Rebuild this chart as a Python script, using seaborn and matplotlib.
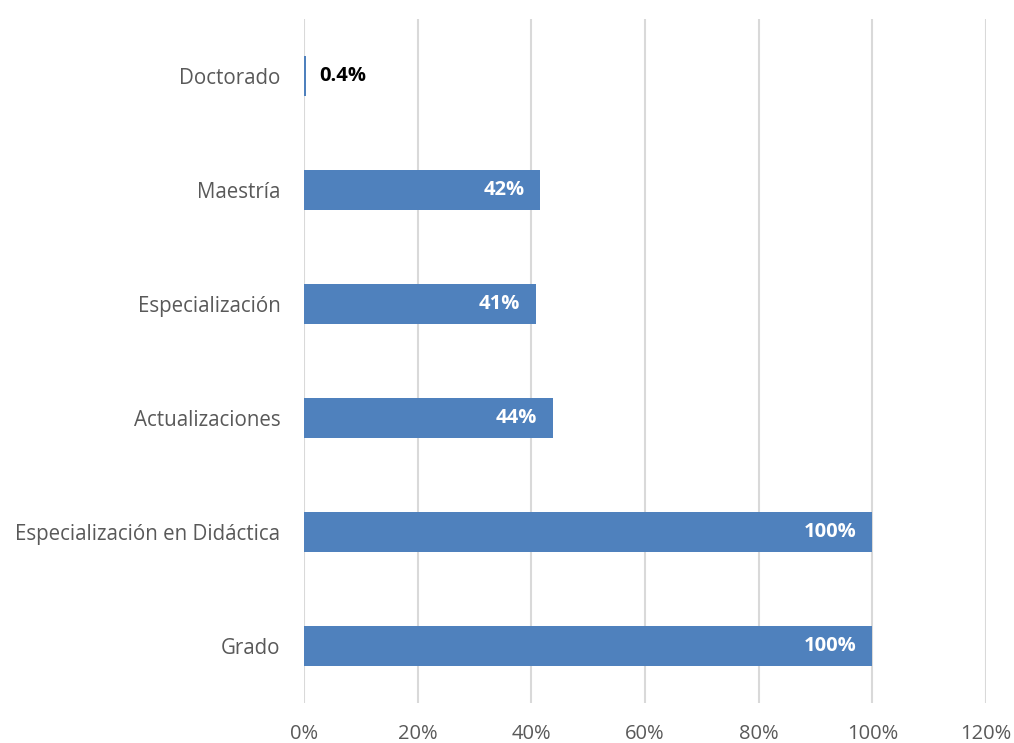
import matplotlib
matplotlib.use("Agg")
import matplotlib.pyplot as plt
import seaborn as sns
import pandas as pd
from matplotlib.ticker import FuncFormatter

categories = ["Doctorado", "Maestría", "Especialización", "Actualizaciones",
              "Especialización en Didáctica", "Grado"]
values = [0.4, 41.6, 40.8, 43.8, 100, 100]
labels = ["0.4%", "42%", "41%", "44%", "100%", "100%"]
xticks = [0, 20, 40, 60, 80, 100, 120]

sns.set_theme(style="white")
plt.rcParams['font.family'] = ['Open Sans', 'DejaVu Sans']

df = pd.DataFrame({"cat": categories, "val": values})

fig = plt.figure(figsize=(10.14, 7.43), dpi=100)
ax = fig.add_axes([304/1014, (743-703)/743, (986-304)/1014, (703-19)/743])

sns.barplot(data=df, y="cat", x="val", orient="h", color="#4F81BD",
            saturation=1, width=0.35, ax=ax, zorder=3, linewidth=0)

ax.set_xlim(0, 120)
ax.set_xticks(xticks)
ax.xaxis.set_major_formatter(FuncFormatter(lambda v, p: f"{int(v)}%"))
ax.grid(axis="x", color="#D9D9D9", linewidth=1.5, zorder=0)
ax.grid(axis="y", visible=False)
for s in ax.spines.values():
    s.set_visible(False)
ax.set_xlabel("")
ax.set_ylabel("")
ax.tick_params(axis="x", length=0, pad=15, labelsize=14.5, labelcolor="#595959")
ax.tick_params(axis="y", length=0, pad=17, labelsize=14.8, labelcolor="#595959")

for i, (v, lab) in enumerate(zip(values, labels)):
    if v < 5:
        ax.annotate(lab, (v, i), xytext=(13, 0), textcoords="offset pixels",
                    ha="left", va="center", fontsize=14.5, fontweight="bold",
                    color="black")
    else:
        ax.annotate(lab, (v, i), xytext=(-16, 0), textcoords="offset pixels",
                    ha="right", va="center", fontsize=14.5, fontweight="bold",
                    color="white")

fig.savefig("out.png", dpi=100)
